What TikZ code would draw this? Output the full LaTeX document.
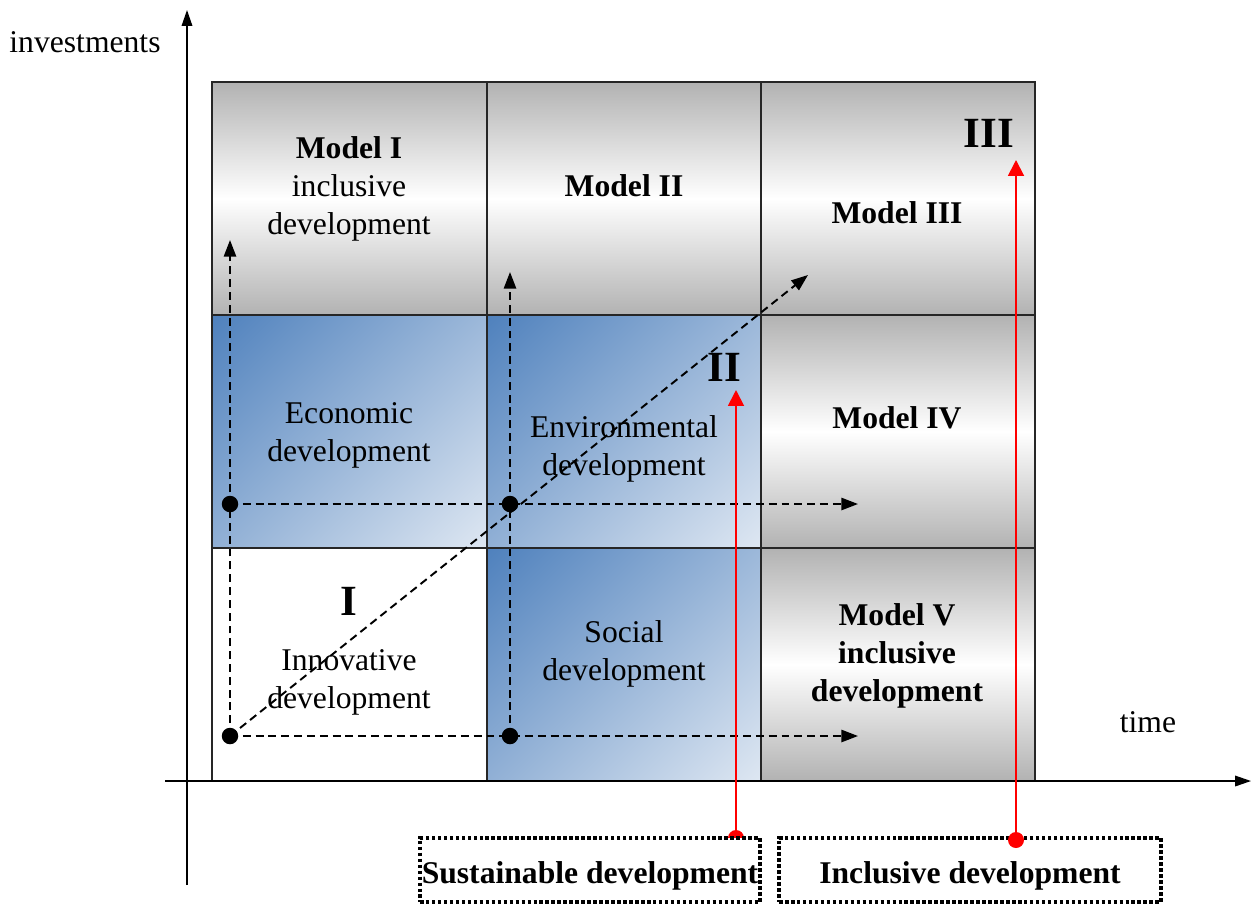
\documentclass[tikz,border=0pt]{standalone}
\usepackage{fontspec}
\setmainfont{Liberation Serif}
\usetikzlibrary{arrows.meta}
\definecolor{cellgray}{RGB}{178,178,178}
\definecolor{blueDark}{RGB}{79,129,189}
\definecolor{blueLight}{RGB}{222,231,242}
\pgfdeclareverticalshading{bluediag}{100bp}{color(0bp)=(blueLight); color(14.6bp)=(blueLight); color(85.4bp)=(blueDark); color(100bp)=(blueDark)}
\tikzset{
  graycell/.style={draw=black!85,line width=0.9pt,top color=cellgray,bottom color=cellgray,middle color=white},
  bluecell/.style={draw=black!85,line width=0.9pt,shading=bluediag,shading angle=45},
  txt/.style={font=\fontsize{18}{21.5}\selectfont,align=center,inner sep=0pt},
  bigtxt/.style={font=\fontsize{24.5}{28}\selectfont\bfseries,inner sep=0pt},
  dasharrow/.style={dash pattern=on 4.5pt off 2.8pt,line width=1.1pt,-{Triangle[length=9.5pt,width=7pt]}},
  redarrow/.style={red,line width=1.1pt,-{Triangle[length=9pt,width=9pt]}},
  axisarrow/.style={line width=0.8pt,-{Triangle[length=9pt,width=6pt]}},
  blackdot/.style={circle,fill=black,inner sep=0pt,minimum size=0.33cm},
  reddot/.style={circle,fill=red,inner sep=0pt,minimum size=0.32cm},
  legendbox/.style={draw,line width=2pt,dash pattern=on 2pt off 1.4pt,fill=white,inner xsep=1pt,minimum height=1.28cm,text height=15pt,text depth=0pt,font=\fontsize{18}{21.5}\selectfont\bfseries}
}
\begin{document}
\begin{tikzpicture}[x=0.02cm,y=-0.02cm]
\useasboundingbox (0,0) rectangle (1251,904);
% cells
\shadedraw[graycell] (212,82) rectangle (487,315);
\shadedraw[graycell] (487,82) rectangle (761,315);
\shadedraw[graycell] (761,82) rectangle (1035,315);
\shadedraw[bluecell] (212,315) rectangle (487,548);
\shadedraw[bluecell] (487,315) rectangle (761,548);
\shadedraw[graycell] (761,315) rectangle (1035,548);
\draw[draw=black!85,line width=0.9pt,fill=white] (212,548) rectangle (487,781);
\shadedraw[bluecell] (487,548) rectangle (761,781);
\shadedraw[graycell] (761,548) rectangle (1035,781);
% axes
\coordinate (ybot) at (187,885);
\coordinate (ytop) at (187,10);
\coordinate (xleft) at (165,781);
\coordinate (xright) at (1251,781);
\draw[axisarrow] (ybot) -- (ytop);
\draw[axisarrow] (xleft) -- (xright);
\node[txt] (invest) at (85,42) {investments};
\node[txt] (time) at (1148,722) {time};
% texts
\node[txt] (modelI) at (349,189) {\textbf{Model I}\\inclusive\\development};
\node[txt,font=\fontsize{18}{21.5}\selectfont\bfseries] (modelII) at (624,186) {Model II};
\node[txt,font=\fontsize{18}{21.5}\selectfont\bfseries] (modelIII) at (897,213) {Model III};
\node[bigtxt] (numIII) at (989,133) {III};
\node[txt] (econ) at (349,435) {Economic\\development};
\node[txt] (envir) at (624,449) {Environmental\\development};
\node[bigtxt] (numII) at (724,367) {II};
\node[txt,font=\fontsize{18}{21.5}\selectfont\bfseries] (modelIV) at (897,418) {Model IV};
\node[bigtxt] (numI) at (349,601) {I};
\node[txt] (innov) at (349,682) {Innovative\\development};
\node[txt] (social) at (624,654) {Social\\development};
\node[txt,font=\fontsize{18}{21.5}\selectfont\bfseries] (modelV) at (897,656) {Model V\\inclusive\\development};
% dashed paths
\node[blackdot] (d1) at (230,736) {};
\node[blackdot] (d2) at (510,736) {};
\node[blackdot] (d3) at (230,504) {};
\node[blackdot] (d4) at (510,504) {};
\coordinate (t1) at (230,240);
\coordinate (t2) at (510,272);
\coordinate (t3) at (858,504);
\coordinate (t4) at (858,736);
\coordinate (t5) at (808,275);
\draw[dasharrow] (d1.center) -- (t1);
\draw[dasharrow] (d2.center) -- (t2);
\draw[dasharrow] (d3.center) -- (t3);
\draw[dasharrow] (d1.center) -- (t4);
\draw[dasharrow] (d1.center) -- (t5);
% red arrows and legend
\coordinate (sustTip) at (736,390);
\coordinate (inclTip) at (1016,160);
\node[reddot] (sustDot) at (736,838) {};
\coordinate (inclDot) at (1016,840);
\draw[redarrow] (sustDot.center) -- (sustTip);
\draw[redarrow] (inclDot) -- (inclTip);
\node[legendbox,minimum width=6.8cm] (sust) at (590,870) {Sustainable development};
\node[legendbox,minimum width=7.64cm] (incl) at (970,870) {Inclusive development};
\node[reddot] at (inclDot) {};
\end{tikzpicture}
\end{document}
